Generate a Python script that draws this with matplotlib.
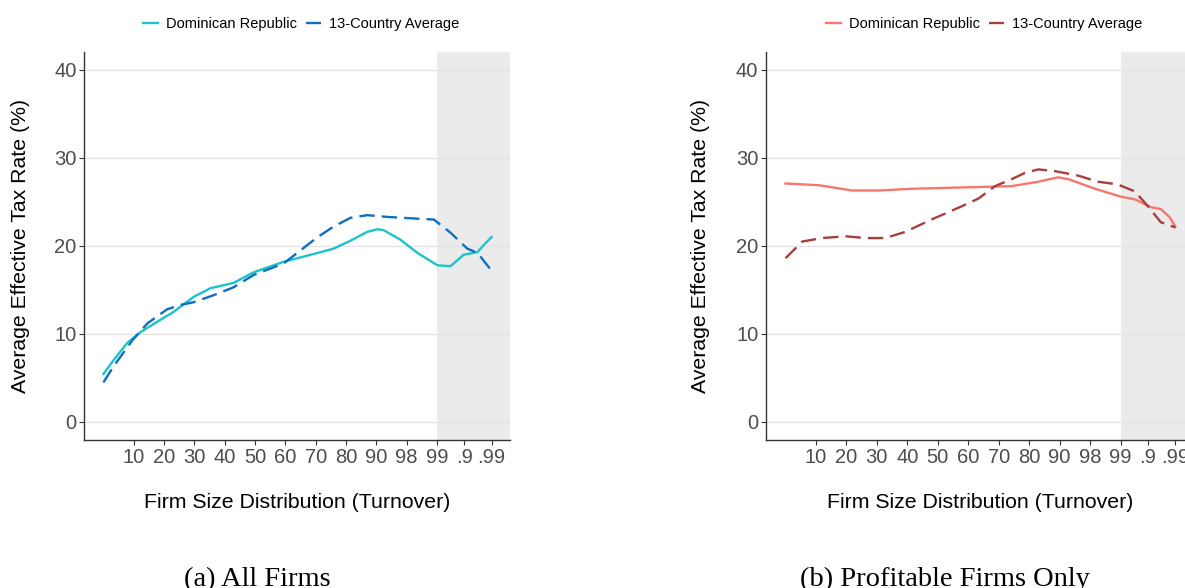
import matplotlib
matplotlib.use("Agg")
import matplotlib.pyplot as plt

plt.rcParams['font.family'] = ['Liberation Sans', 'DejaVu Sans']

# --- tick labels (firm size distribution, turnover percentiles) ---
tick_pos = [1, 2, 3, 4, 5, 6, 7, 8, 9, 10, 11, 11.9, 12.8]
tick_labels = ['10', '20', '30', '40', '50', '60', '70', '80', '90', '98', '99', '.9', '.99']
y_ticks = [0, 10, 20, 30, 40]

# --- panel (a) All firms ---
a_dr_x = [0, 0.33, 0.79, 1.22, 1.78, 2.31, 2.97, 3.53, 4.29, 4.95, 5.94, 7.06, 7.59,
          8.15, 8.7, 9.04, 9.24, 9.8, 10.36, 11.02, 11.45, 11.88, 12.34, 12.54, 12.8]
a_dr_y = [5.45, 7.0, 9.0, 10.2, 11.4, 12.5, 14.2, 15.2, 15.8, 17.0, 18.2, 19.2, 19.7,
          20.6, 21.6, 21.9, 21.8, 20.7, 19.2, 17.8, 17.7, 19.0, 19.3, 20.1, 21.0]
a_avg_x = [0, 0.33, 0.96, 1.45, 2.1, 2.54, 2.97, 3.63, 4.29, 4.95, 5.94, 6.5, 7.06,
           7.59, 8.15, 8.7, 9.37, 10.36, 10.9, 11.45, 12.0, 12.34, 12.8]
a_avg_y = [4.5, 6.3, 9.3, 11.2, 12.8, 13.3, 13.6, 14.4, 15.3, 16.7, 18.0, 19.5, 21.0,
           22.2, 23.2, 23.5, 23.3, 23.1, 23.0, 21.5, 19.7, 19.2, 17.2]

# --- panel (b) Profitable firms only ---
b_dr_x = [0, 1.1, 2.2, 3.07, 4.15, 5.26, 6.34, 7.43, 8.3, 8.95, 9.28, 10.16, 11.01,
          11.47, 12.0, 12.32, 12.6, 12.8]
b_dr_y = [27.1, 26.9, 26.3, 26.3, 26.5, 26.6, 26.7, 26.8, 27.3, 27.8, 27.6, 26.5, 25.6,
          25.3, 24.4, 24.2, 23.3, 22.2]
b_avg_x = [0, 0.55, 1.2, 1.97, 2.63, 3.28, 3.93, 4.79, 5.78, 6.34, 6.88, 7.43, 7.86,
           8.3, 8.85, 9.6, 10.26, 10.9, 11.47, 11.9, 12.32, 12.8]
b_avg_y = [18.6, 20.5, 20.9, 21.1, 20.9, 20.9, 21.6, 23.0, 24.5, 25.4, 26.8, 27.6, 28.3,
           28.7, 28.5, 28.0, 27.3, 27.0, 26.2, 24.5, 22.7, 22.1]

panels = [
    dict(rect=[0.0709, 0.2517, 0.3595, 0.66], dr=(a_dr_x, a_dr_y), avg=(a_avg_x, a_avg_y),
         colors=('#1CC3CB', '#0F6EBE'), caption='(a) All Firms', cap_x=0.2175, ylab_x=-0.148),
    dict(rect=[0.6464, 0.2517, 0.3612, 0.66], dr=(b_dr_x, b_dr_y), avg=(b_avg_x, b_avg_y),
         colors=('#F8766D', '#A83E3E'), caption='(b) Profitable Firms Only', cap_x=0.7975,
         ylab_x=-0.152),
]

fig = plt.figure(figsize=(11.85, 5.88), dpi=100)

for p in panels:
    ax = fig.add_axes(p['rect'])
    ax.axvspan(11, 14, color='#EBEBEB', lw=0, zorder=0)
    for yv in y_ticks:
        ax.axhline(yv, color='#E2E2E2', lw=0.9, zorder=0.5)
    ax.plot(*p['dr'], color=p['colors'][0], lw=1.7, label='Dominican Republic', zorder=3)
    ax.plot(*p['avg'], color=p['colors'][1], lw=1.7, dashes=(6.5, 3),
            label='13-Country Average', zorder=3)

    ax.set_xlim(-0.64, 13.41)
    ax.set_ylim(-2.05, 42.05)
    ax.set_xticks(tick_pos)
    ax.set_xticklabels(tick_labels)
    ax.set_yticks(y_ticks)
    ax.tick_params(labelsize=14.5, labelcolor='#4D4D4D', color='#333333', length=3.5, width=0.8, pad=2)
    for s in ['top', 'right']:
        ax.spines[s].set_visible(False)
    for s in ['left', 'bottom']:
        ax.spines[s].set_color('#333333')
        ax.spines[s].set_linewidth(1.0)

    ax.set_xlabel('Firm Size Distribution (Turnover)', fontsize=15.3)
    ax.set_ylabel('Average Effective Tax Rate (%)', fontsize=15.3)
    ax.xaxis.set_label_coords(0.5, -0.16)
    ax.yaxis.set_label_coords(p['ylab_x'], 0.5)
    ax.xaxis.label.set_va('center')
    ax.yaxis.label.set_va('center')

    ax.legend(loc='lower center', bbox_to_anchor=(0.51, 1.02), ncol=2, frameon=False,
              fontsize=10.5, handlelength=1.0, handletextpad=0.6, columnspacing=0.6)

    fig.text(p['cap_x'], 1.5 / 588, p['caption'], ha='center', va='baseline',
             fontsize=20.5, family=['Liberation Serif', 'DejaVu Serif'])

fig.savefig('out.png', dpi=100)
